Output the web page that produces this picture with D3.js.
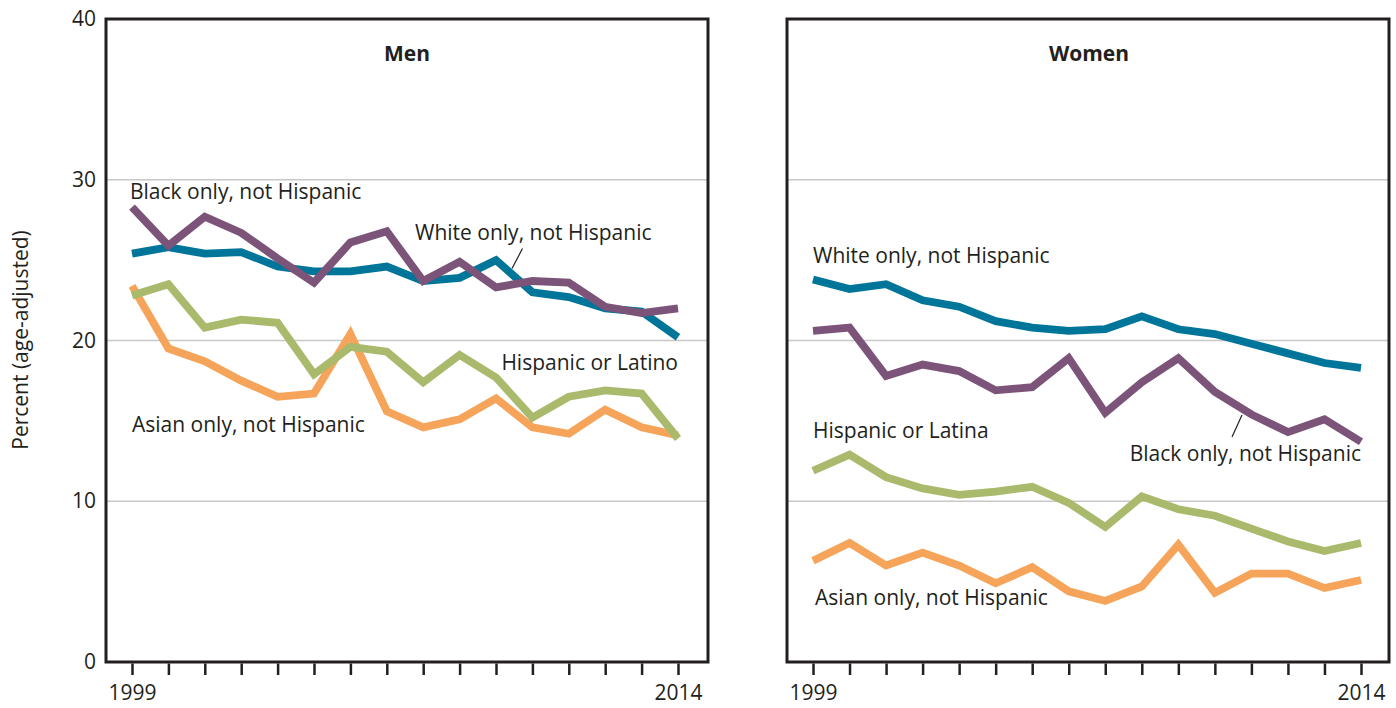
<!DOCTYPE html>
<html><head><meta charset="utf-8">
<script src="https://cdn.jsdelivr.net/npm/d3@7/dist/d3.min.js"></script>
<style>
body{margin:0;background:#fff}
text{font-family:"Open Sans","Noto Sans",sans-serif;fill:#231f20}
</style>
</head><body>
<svg id="chart" width="1396" height="708"></svg>
<script>
// ---------- data ----------
const years = [1999,2000,2001,2002,2003,2004,2005,2006,2007,2008,2009,2010,2011,2012,2013,2014];
const yTicks = [0,10,20,30,40];
const xTickLabels = [1999,2014];
const seriesNames = ["White only, not Hispanic","Black only, not Hispanic","Hispanic or Latino","Asian only, not Hispanic"];
const panelTitles = ["Men","Women"];

const menWhite    = [25.4,25.8,25.4,25.5,24.6,24.3,24.3,24.6,23.7,23.9,25.0,23.0,22.7,22.0,21.8,20.2];
const menBlack    = [28.3,25.9,27.7,26.7,25.1,23.6,26.1,26.8,23.7,24.9,23.3,23.7,23.6,22.1,21.7,22.0];
const menHispanic = [22.8,23.5,20.8,21.3,21.1,17.9,19.6,19.3,17.4,19.1,17.7,15.2,16.5,16.9,16.7,13.9];
const menAsian    = [23.4,19.5,18.7,17.5,16.5,16.7,20.4,15.6,14.6,15.1,16.4,14.6,14.2,15.7,14.6,14.1];

const womenWhite    = [23.8,23.2,23.5,22.5,22.1,21.2,20.8,20.6,20.7,21.5,20.7,20.4,19.8,19.2,18.6,18.3];
const womenBlack    = [20.6,20.8,17.8,18.5,18.1,16.9,17.1,18.9,15.5,17.4,18.9,16.8,15.4,14.3,15.1,13.7];
const womenHispanic = [11.9,12.9,11.5,10.8,10.4,10.6,10.9,9.9,8.4,10.3,9.5,9.1,8.3,7.5,6.9,7.4];
const womenAsian    = [6.3,7.4,6.0,6.8,6.0,4.9,5.9,4.4,3.8,4.7,7.3,4.3,5.5,5.5,4.6,5.1];

// ---------- layout & style ----------
const colors = {white:"#00759a", black:"#7c5479", hispanic:"#a9ba6d", asian:"#f5a45a"};
const ink = "#231f20";
const plotTop = 19, plotBottom = 662;
const fs = 21;

const panels = [
  {title: panelTitles[0], left:106, right:708, xa:132, xb:678, titleX:407,
   series:[
     {values:menAsian, color:colors.asian},
     {values:menHispanic, color:colors.hispanic},
     {values:menWhite, color:colors.white},
     {values:menBlack, color:colors.black}
   ],
   labels:[
     {text:seriesNames[1], x:130, y:199, anchor:"start"},
     {text:seriesNames[0], x:415, y:240, anchor:"start"},
     {text:seriesNames[2], x:678, y:370, anchor:"end"},
     {text:seriesNames[3], x:132, y:432, anchor:"start"}
   ],
   leader:{x1:522.5, y1:248.5, x2:512, y2:268.5},
   yAxis:true},
  {title: panelTitles[1], left:787, right:1389, xa:813, xb:1361, titleX:1089,
   series:[
     {values:womenAsian, color:colors.asian},
     {values:womenHispanic, color:colors.hispanic},
     {values:womenWhite, color:colors.white},
     {values:womenBlack, color:colors.black}
   ],
   labels:[
     {text:seriesNames[0], x:813, y:263, anchor:"start"},
     {text:"Hispanic or Latina", x:813, y:438, anchor:"start"},
     {text:seriesNames[1], x:1361, y:461, anchor:"end"},
     {text:seriesNames[3], x:815, y:605, anchor:"start"}
   ],
   leader:{x1:1242, y1:415, x2:1232, y2:437},
   yAxis:false}
];

const svg = d3.select("#chart");
const y = d3.scaleLinear().domain([0,40]).range([plotBottom, plotTop]);

panels.forEach(p => {
  const x = d3.scaleLinear().domain([years[0], years[years.length-1]]).range([p.xa, p.xb]);
  const g = svg.append("g");

  g.selectAll("line.grid").data(yTicks.filter(t => t > 0 && t < 40)).join("line")
    .attr("x1", p.left).attr("x2", p.right)
    .attr("y1", d => y(d)).attr("y2", d => y(d))
    .attr("stroke", "#c8c8c8").attr("stroke-width", 1.5);

  const line = d3.line().x((d,i) => x(years[i])).y(d => y(d));
  g.selectAll("path.series").data(p.series).join("path")
    .attr("d", d => line(d.values))
    .attr("fill", "none").attr("stroke", d => d.color)
    .attr("stroke-width", 7.8).attr("stroke-linejoin", "miter");

  g.append("rect").attr("x", p.left).attr("y", plotTop)
    .attr("width", p.right - p.left).attr("height", plotBottom - plotTop)
    .attr("fill", "none").attr("stroke", ink).attr("stroke-width", 3);

  const xAxis = d3.axisBottom(x).tickValues(years).tickSize(13).tickPadding(8)
    .tickFormat(d => xTickLabels.includes(d) ? String(d) : "");
  const ax = g.append("g").attr("transform", `translate(0,${plotBottom})`).call(xAxis);
  ax.select(".domain").remove();
  ax.selectAll(".tick line").attr("stroke", ink).attr("stroke-width", 2.5).attr("y1", 1.5);
  ax.selectAll(".tick text").attr("font-size", fs).attr("fill", ink)
    .style("font-family", '"Open Sans","Noto Sans",sans-serif')
    .attr("y", 38).attr("dy", "0");

  if (p.yAxis) {
    const yAxis = d3.axisLeft(y).tickValues(yTicks).tickSize(0).tickPadding(10);
    const ay = g.append("g").attr("transform", `translate(${p.left},0)`).call(yAxis);
    ay.select(".domain").remove();
    ay.selectAll(".tick text").attr("font-size", fs).attr("fill", ink)
      .style("font-family", '"Open Sans","Noto Sans",sans-serif');
  }

  g.append("text").attr("x", p.titleX).attr("y", 61).attr("text-anchor", "middle")
    .attr("font-size", fs).attr("font-weight", "bold").text(p.title);

  g.selectAll("text.lab").data(p.labels).join("text")
    .attr("x", d => d.x).attr("y", d => d.y).attr("text-anchor", d => d.anchor)
    .attr("font-size", fs).text(d => d.text);

  g.append("line").attr("x1", p.leader.x1).attr("y1", p.leader.y1)
    .attr("x2", p.leader.x2).attr("y2", p.leader.y2)
    .attr("stroke", ink).attr("stroke-width", 1.2);
});

svg.append("text").attr("transform", "translate(28,340) rotate(-90)")
  .attr("text-anchor", "middle").attr("font-size", fs).text("Percent (age-adjusted)");
</script>
</body></html>
